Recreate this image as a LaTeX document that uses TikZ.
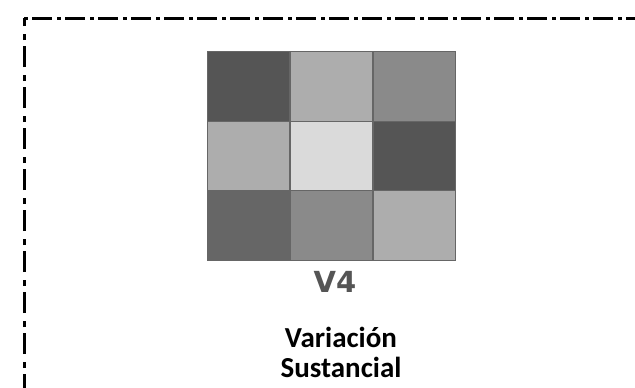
\documentclass[tikz,border=0pt]{standalone}
\usepackage{fontspec}
\setmainfont{Carlito}
\newfontfamily\labelfont{DejaVu Sans}
\usetikzlibrary{positioning}

\definecolor{gdark}{HTML}{555555}
\definecolor{gdeep}{HTML}{666666}
\definecolor{gmid}{HTML}{8A8A8A}
\definecolor{glight}{HTML}{ADADAD}
\definecolor{gpale}{HTML}{DADADA}

\begin{document}
\begin{tikzpicture}[x=1pt,y=-1pt]
			\useasboundingbox (0,0) rectangle (635,388);

			% frame
			\coordinate (corner) at (24,18);
			\coordinate (bottom) at (24,395);
			\coordinate (right) at (640,18);
			\draw[line width=3pt, dash pattern=on 21pt off 6pt on 6pt off 8pt] (bottom) -- (corner);
			\draw[line width=3pt, dash pattern=on 4pt off 4pt on 20pt off 5pt] (corner) -- (right);

			% cells
			\begin{scope}[every node/.style={rectangle,draw=black!60,line width=0.4pt,
				inner sep=0pt,minimum width=82pt,minimum height=70pt}]
				\node[fill=gdark]  (A) at (248.5,86) {};
				\node[fill=glight] (B) at (331,86) {};
				\node[fill=gmid]   (C) at (414,86) {};
				\node[fill=glight] (D) at (248.5,156) {};
				\node[fill=gpale]  (E) at (331,156) {};
				\node[fill=gdark]  (F) at (414,156) {};
				\node[fill=gdeep]  (G) at (248.5,225) {};
				\node[fill=gmid]   (H) at (331,225) {};
				\node[fill=glight] (I) at (414,225) {};
			\end{scope}

			% captions
			\node[text=gdark, font=\labelfont\bfseries\fontsize{29}{31}\selectfont] (V) at (335,282) {V4};
			\node[align=center, font=\bfseries\fontsize{29}{30}\selectfont] (T) at (341,352) {Variación\\Sustancial};
		\end{tikzpicture}
\end{document}
